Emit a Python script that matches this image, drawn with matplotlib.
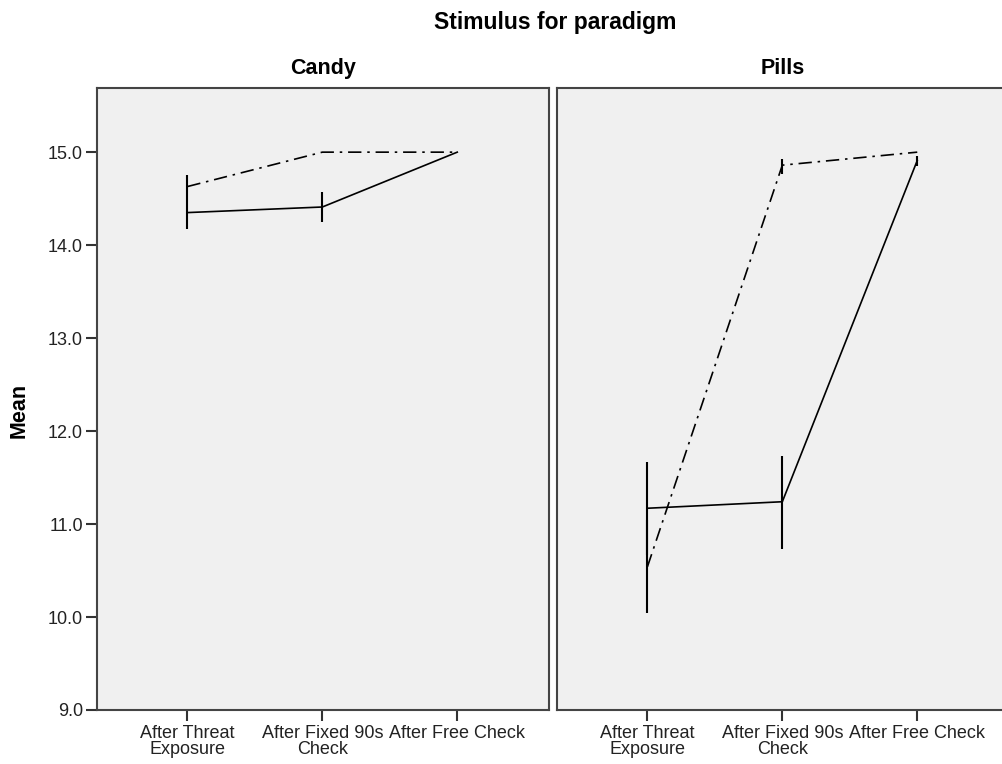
import numpy as np
import matplotlib.pyplot as plt

plt.rcParams['font.family'] = ['Liberation Sans', 'DejaVu Sans']

# data
stages = ["After Threat\nExposure", "After Fixed 90s\nCheck", "After Free Check"]
panels = ["Candy", "Pills"]

# solid line series
solid_mean = {"Candy": [14.35, 14.41, 15.0], "Pills": [11.17, 11.24, 14.91]}
solid_lo = {"Candy": [14.17, 14.25, 15.0], "Pills": [10.67, 10.73, 14.85]}
solid_hi = {"Candy": [14.52, 14.57, 15.0], "Pills": [11.67, 11.73, 14.96]}

# dash-dot series
dash_mean = {"Candy": [14.63, 15.0, 15.0], "Pills": [10.54, 14.86, 15.0]}
dash_lo = {"Candy": [14.52, 15.0, 15.0], "Pills": [10.04, 14.77, 15.0]}
dash_hi = {"Candy": [14.75, 15.0, 15.0], "Pills": [11.04, 14.93, 15.0]}

yticks = [9.0, 10.0, 11.0, 12.0, 13.0, 14.0, 15.0]

fig = plt.figure(figsize=(10.03, 7.64), dpi=100)
W, H = 1003, 764
lefts = [97, 557]
bottom, top = 710, 88

x = np.arange(1, len(stages) + 1)
for i, name in enumerate(panels):
    ax = fig.add_axes([lefts[i] / W, (H - bottom) / H, 452 / W, (bottom - top) / H])
    ax.set_facecolor("#f0f0f0")

    ax.plot(x, solid_mean[name], color="black", lw=1.2)
    ax.plot(x, dash_mean[name], color="black", lw=1.2,
            linestyle=(0, (8, 3.5, 1.5, 3.5)))
    ax.vlines(x, solid_lo[name], solid_hi[name], color="black", lw=1.5)
    ax.vlines(x, dash_lo[name], dash_hi[name], color="black", lw=1.5)

    ax.set_xlim(0.33, 3.68)
    ax.set_ylim(9.0, 15.69)
    ax.set_xticks(x)
    ax.set_xticklabels(stages, fontsize=13, linespacing=0.88, color="#222222")
    ax.tick_params(axis="x", length=8, width=1.5, color="#333333", pad=3)
    for s in ax.spines.values():
        s.set_color("#444444")
        s.set_linewidth(1.5)
    ax.set_title(name, fontsize=15.5, fontweight="bold", pad=10)

    if i == 0:
        ax.set_yticks(yticks)
        ax.set_yticklabels([f"{v:.1f}" for v in yticks], fontsize=13, color="#222222")
        ax.tick_params(axis="y", length=8, width=1.5, color="#333333", pad=2)
    else:
        ax.set_yticks([])

fig.text(19 / W, 1 - 410 / H, "Mean", rotation=90, ha="center", va="center",
         fontsize=15.5, fontweight="bold")
fig.text(555 / W, 1 - 22 / H, "Stimulus for paradigm", ha="center", va="center",
         fontsize=16.5, fontweight="bold")

fig.savefig("out.png", dpi=100)
